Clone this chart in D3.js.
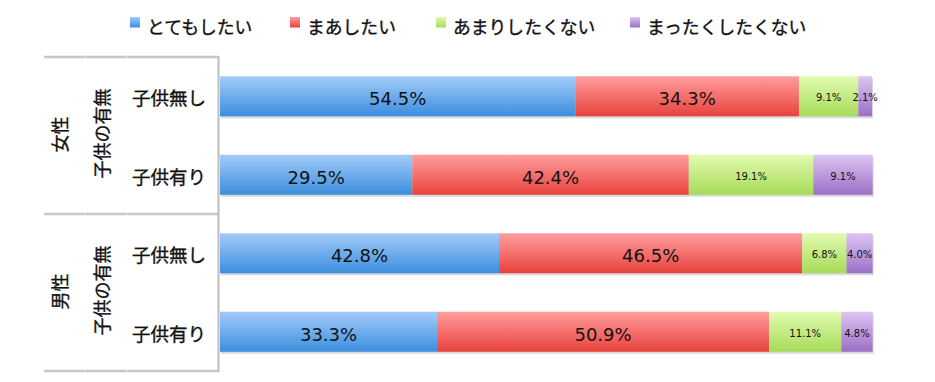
<!DOCTYPE html>
<html><head><meta charset="utf-8">
<script src="https://cdn.jsdelivr.net/npm/d3@7"></script>
<style>body{margin:0;background:#fff;}svg{display:block;}</style>
</head><body>
<script>
const rows = ["女性-子供無し","女性-子供有り","男性-子供無し","男性-子供有り"];
const rowLabels = ["子供無し","子供有り","子供無し","子供有り"];
const groups = ["女性","男性"];
const subTitle = "子供の有無";
const seriesNames = ["とてもしたい","まあしたい","あまりしたくない","まったくしたくない"];
const s1 = [54.5, 29.5, 42.8, 33.3];
const s2 = [34.3, 42.4, 46.5, 50.9];
const s3 = [9.1, 19.1, 6.8, 11.1];
const s4 = [2.1, 9.1, 4.0, 4.8];
const bigLabel = [[true,true,false,false],[true,true,false,false],[true,true,false,false],[true,true,false,false]];

const W=935,H=382;
const svg=d3.select("body").append("svg").attr("width",W).attr("height",H);
const defs=svg.append("defs");
const grads=[["#a3cbf9","#3b8ede"],["#ff9e9e","#e8423c"],["#e2fbb0","#a6db58"],["#dcc5f4","#9c6fc6"]];
grads.forEach((g,i)=>{
  const lg=defs.append("linearGradient").attr("id","g"+i).attr("x1",0).attr("y1",0).attr("x2",0).attr("y2",1);
  lg.append("stop").attr("offset","0%").attr("stop-color",g[0]);
  lg.append("stop").attr("offset","100%").attr("stop-color",g[1]);
});
const x=d3.scaleLinear().domain([0,100]).range([220,872]);
const y=d3.scaleBand().domain(rows).range([57,371]).paddingInner(0.49).paddingOuter(0.245);
const series=[s1,s2,s3,s4];
const stack=rows.map((r,i)=>{let acc=0;return series.map((s,k)=>{const v=s[i];const o={row:r,k,x0:acc,x1:acc+v,v,i};acc+=v;return o;});});

const gBars=svg.append("g");
rows.forEach((r,i)=>{
  const tot=d3.sum(series,s=>s[i]);
  gBars.append("rect").attr("x",x(0)+1).attr("y",y(r)+2).attr("width",x(tot)-x(0)).attr("height",y.bandwidth())
    .attr("fill","#000").attr("opacity",0.15);
});
stack.flat().forEach(d=>{
  gBars.append("rect").attr("x",x(d.x0)).attr("y",y(d.row)).attr("width",x(d.x1)-x(d.x0)).attr("height",y.bandwidth())
    .attr("fill","url(#g"+d.k+")");
});
stack.flat().forEach(d=>{
  const big=bigLabel[d.i][d.k];
  const cy=y(d.row)+y.bandwidth()/2;
  gBars.append("text").attr("x",(x(d.x0)+x(d.x1))/2).attr("y",cy+(big?9:5))
    .attr("text-anchor","middle").attr("font-family","DejaVu Sans").attr("font-size",big?18:10)
    .attr("fill","#111").text(d.v.toFixed(1)+"%");
});

const lc="#c8c8c8";
[57,214,371].forEach(v=>{
  svg.append("line").attr("x1",44).attr("x2",219).attr("y1",v).attr("y2",v).attr("stroke",lc).attr("stroke-width",2.5);
  [85,127].forEach(t=>svg.append("line").attr("x1",t).attr("x2",t).attr("y1",v-1.3).attr("y2",v+1.3).attr("stroke","#e6e6e6").attr("stroke-width",1));
});
svg.append("line").attr("x1",218.5).attr("x2",218.5).attr("y1",56).attr("y2",372).attr("stroke","#bdbdbd").attr("stroke-width",2);

const jf="'Noto Sans CJK JP', sans-serif";
function jt(sel){return sel.attr("font-family",jf).attr("fill","#111").attr("stroke","#111").attr("stroke-width",0.35);}
rows.forEach((r,i)=>{
  jt(svg.append("text").attr("x",132).attr("y",y(r)+y.bandwidth()/2+1).attr("dominant-baseline","central")
    .attr("font-size",18.5)).text(rowLabels[i]);
});
groups.forEach((g,j)=>{
  const cy=(y(rows[j*2])+y(rows[j*2+1])+y.bandwidth())/2-1;
  jt(svg.append("text").attr("transform",`translate(59,${cy}) rotate(-90)`).attr("text-anchor","middle").attr("dominant-baseline","central")
    .attr("font-size",18)).text(g);
  jt(svg.append("text").attr("transform",`translate(101,${cy-1}) rotate(-90)`).attr("text-anchor","middle").attr("dominant-baseline","central")
    .attr("font-size",18)).text(subTitle);
});

const legX=[130,290,436,630];
seriesNames.forEach((n,i)=>{
  svg.append("rect").attr("x",legX[i]).attr("y",17).attr("width",10).attr("height",10.5).attr("fill","url(#g"+i+")");
  jt(svg.append("text").attr("x",legX[i]+17).attr("y",25.5).attr("dominant-baseline","central")
    .attr("font-size",17.8)).text(n);
});
</script>
</body></html>
